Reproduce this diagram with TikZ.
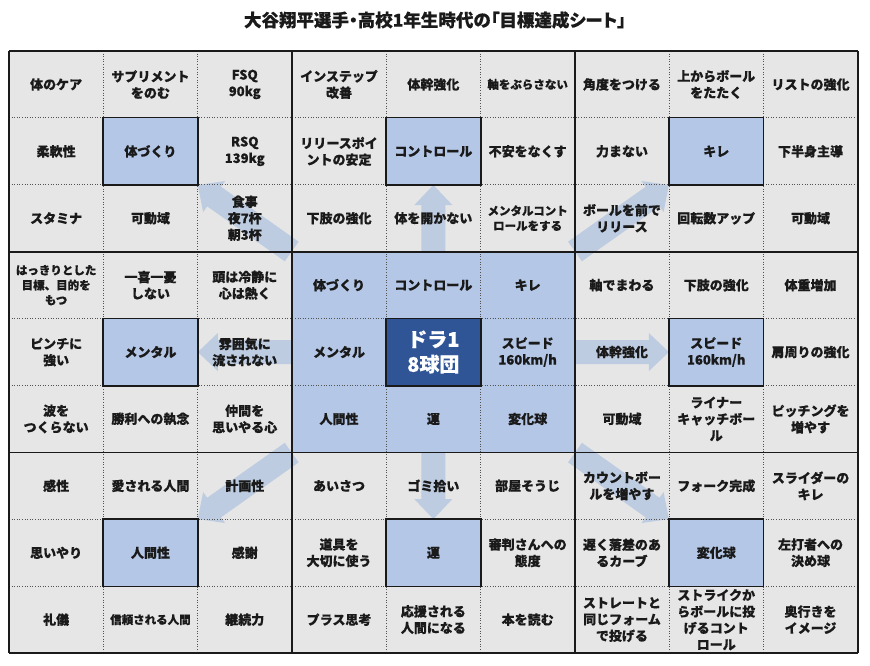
\documentclass[tikz,border=0pt]{standalone}
\usepackage{fontspec}
\setmainfont{Noto Sans CJK JP}[BoldFeatures={FakeBold=0.4}]
\newfontfamily\titlefont{Noto Sans CJK JP}[RawFeature=+palt, BoldFeatures={FakeBold=0.5}]
\usetikzlibrary{calc}
\pgfdeclarelayer{lgray}\pgfdeclarelayer{larrow}\pgfdeclarelayer{lfill}
\pgfsetlayers{lgray,larrow,lfill,main}
\definecolor{cellgray}{HTML}{E6E6E6}
\definecolor{lblue}{HTML}{B4C7E7}
\definecolor{dblue}{HTML}{2F5597}
\definecolor{arrowblue}{RGB}{190,204,225}
\definecolor{ink}{HTML}{1A1A1A}
\tikzset{
 cell/.style={minimum width=94.3pt, minimum height=66.9pt, inner sep=0pt, align=center, text=ink, font=\bfseries\fontsize{13}{16.5}\selectfont},
 sevenchar/.style={font=\bfseries\fontsize{11.5}{15}\selectfont},
 arrowfill/.style={fill=arrowblue},
 blockline/.style={line width=1.8pt, draw=ink},
 dotline/.style={line width=0.8pt, draw=ink!75, dash pattern=on 0.8pt off 1.8pt},
 subbox/.style={fill=lblue, draw=ink, line width=1.6pt},
 centerbox/.style={fill=dblue, draw=ink, line width=1.6pt},
}
\newcommand\cell[4][]{\node[cell,#1] (c#2#3) at ({9+(#3+0.5)*94.3},{51+(#2+0.5)*66.9}) {#4};}
\newcommand\fatarrow[3]{%
  \coordinate (#1h) at ($(#3)!20pt!(#2)$);
  \fill[arrowfill] ($(#2)!12pt!90:(#3)$) -- ($(#1h)!12pt!90:(#3)$) -- ($(#1h)!19pt!90:(#3)$) -- (#3)
    -- ($(#1h)!19pt!-90:(#3)$) -- ($(#1h)!12pt!-90:(#3)$) -- ($(#2)!12pt!-90:(#3)$) -- cycle;
}
\begin{document}
\begin{tikzpicture}[x=1pt,y=-1pt]
\useasboundingbox (0,0) rectangle (870,666);
\node[font=\titlefont\bfseries\fontsize{17.5}{20}\selectfont, text=ink] (title) at (435,20) {大谷翔平選手・高校1年生時代の「目標達成シート」};
% row 0
\cell{0}{0}{体のケア}
\cell{0}{1}{サプリメント\\をのむ}
\cell{0}{2}{FSQ\\90kg}
\cell{0}{3}{インステップ\\改善}
\cell{0}{4}{体幹強化}
\cell[sevenchar]{0}{5}{軸をぶらさない}
\cell{0}{6}{角度をつける}
\cell{0}{7}{上からボール\\をたたく}
\cell{0}{8}{リストの強化}
% row 1
\cell{1}{0}{柔軟性}
\cell{1}{1}{体づくり}
\cell{1}{2}{RSQ\\139kg}
\cell{1}{3}{リリースポイ\\ントの安定}
\cell{1}{4}{コントロール}
\cell{1}{5}{不安をなくす}
\cell{1}{6}{力まない}
\cell{1}{7}{キレ}
\cell{1}{8}{下半身主導}
% row 2
\cell{2}{0}{スタミナ}
\cell{2}{1}{可動域}
\cell{2}{2}{食事\\夜7杯\\朝3杯}
\cell{2}{3}{下肢の強化}
\cell{2}{4}{体を開かない}
\cell[sevenchar]{2}{5}{メンタルコント\\ロールをする}
\cell{2}{6}{ボールを前で\\リリース}
\cell{2}{7}{回転数アップ}
\cell{2}{8}{可動域}
% row 3
\cell[sevenchar]{3}{0}{はっきりとした\\目標、目的を\\もつ}
\cell{3}{1}{一喜一憂\\しない}
\cell{3}{2}{頭は冷静に\\心は熱く}
\cell{3}{3}{体づくり}
\cell{3}{4}{コントロール}
\cell{3}{5}{キレ}
\cell{3}{6}{軸でまわる}
\cell{3}{7}{下肢の強化}
\cell{3}{8}{体重増加}
% row 4
\cell{4}{0}{ピンチに\\強い}
\cell{4}{1}{メンタル}
\cell{4}{2}{雰囲気に\\流されない}
\cell{4}{3}{メンタル}
\cell[text=white, font=\bfseries\fontsize{20}{25}\selectfont]{4}{4}{ドラ1\\8球団}
\cell{4}{5}{スピード\\160km/h}
\cell{4}{6}{体幹強化}
\cell{4}{7}{スピード\\160km/h}
\cell{4}{8}{肩周りの強化}
% row 5
\cell{5}{0}{波を\\つくらない}
\cell{5}{1}{勝利への執念}
\cell{5}{2}{仲間を\\思いやる心}
\cell{5}{3}{人間性}
\cell{5}{4}{運}
\cell{5}{5}{変化球}
\cell{5}{6}{可動域}
\cell{5}{7}{ライナー\\キャッチボー\\ル}
\cell{5}{8}{ピッチングを\\増やす}
% row 6
\cell{6}{0}{感性}
\cell{6}{1}{愛される人間}
\cell{6}{2}{計画性}
\cell{6}{3}{あいさつ}
\cell{6}{4}{ゴミ拾い}
\cell{6}{5}{部屋そうじ}
\cell{6}{6}{カウントボー\\ルを増やす}
\cell{6}{7}{フォーク完成}
\cell{6}{8}{スライダーの\\キレ}
% row 7
\cell{7}{0}{思いやり}
\cell{7}{1}{人間性}
\cell{7}{2}{感謝}
\cell{7}{3}{道具を\\大切に使う}
\cell{7}{4}{運}
\cell{7}{5}{審判さんへの\\態度}
\cell{7}{6}{遅く落差のあ\\るカーブ}
\cell{7}{7}{変化球}
\cell{7}{8}{左打者への\\決め球}
% row 8
\cell{8}{0}{礼儀}
\cell[sevenchar]{8}{1}{信頼される人間}
\cell{8}{2}{継続力}
\cell{8}{3}{プラス思考}
\cell{8}{4}{応援される\\人間になる}
\cell{8}{5}{本を読む}
\cell{8}{6}{ストレートと\\同じフォーム\\で投げる}
\cell{8}{7}{ストライクか\\らボールに投\\げるコント\\ロール}
\cell{8}{8}{奥行きを\\イメージ}

\begin{pgfonlayer}{lgray}
  \fill[white] (0,0) rectangle (870,666);
  \fill[cellgray] (c00.north west) rectangle (c88.south east);
\end{pgfonlayer}
\begin{pgfonlayer}{larrow}
  \fatarrow{nw}{c33.north west}{c11.south east}
  \fatarrow{n}{c34.north}{c14.south}
  \fatarrow{ne}{c35.north east}{c17.south west}
  \fatarrow{w}{c43.west}{c41.east}
  \fatarrow{e}{c45.east}{c47.west}
  \fatarrow{sw}{c53.south west}{c71.north east}
  \fatarrow{s}{c54.south}{c74.north}
  \fatarrow{se}{c55.south east}{c77.north west}
\end{pgfonlayer}
\begin{pgfonlayer}{lfill}
  \fill[lblue] (c33.north west) rectangle (c55.south east);
  \foreach \i in {1,2,4,5,7,8} {
    \draw[dotline] ({9+\i*94.3},51) -- ({9+\i*94.3},{51+9*66.9});
    \draw[dotline] (9,{51+\i*66.9}) -- ({9+9*94.3},{51+\i*66.9});
  }
  \foreach \i in {0,3,6,9} {
    \draw[blockline] ({9+\i*94.3},51) -- ({9+\i*94.3},{51+9*66.9});
    \draw[blockline] (9,{51+\i*66.9}) -- ({9+9*94.3},{51+\i*66.9});
  }
  \foreach \n in {11,14,17,41,47,71,74,77} {
    \path[subbox] (c\n.north west) rectangle (c\n.south east);
  }
  \path[centerbox] (c44.north west) rectangle (c44.south east);
\end{pgfonlayer}
\end{tikzpicture}
\end{document}
